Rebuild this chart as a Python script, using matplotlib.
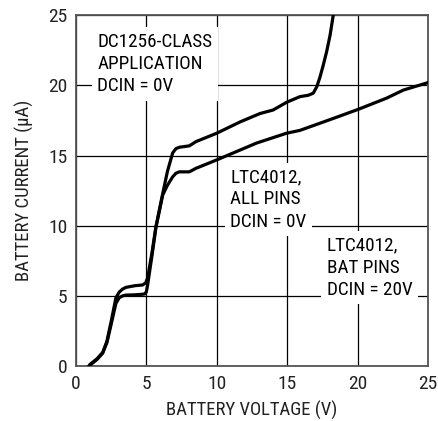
import matplotlib
matplotlib.use("Agg")
import matplotlib.pyplot as plt
from matplotlib import font_manager

# DC1256-class application, DCIN = 0V
dc1256_v = [0.9, 1.0, 1.5, 1.9, 2.2, 2.5, 2.84, 3.08, 3.3, 3.55, 4.2, 4.73, 4.95,
            5.09, 5.4, 5.68, 6.16, 6.5, 6.87, 7.1, 7.34, 8.05, 8.52, 10.0, 11.65,
            13.07, 14.0, 14.96, 15.9, 16.5, 16.85, 17.1, 17.33, 17.55, 17.8, 18.05,
            18.27]
dc1256_i = [0.0, 0.15, 0.55, 1.0, 1.8, 3.2, 4.9, 5.3, 5.5, 5.63, 5.75, 5.8, 5.95,
            6.3, 8.1, 9.95, 12.3, 13.9, 15.2, 15.5, 15.6, 15.7, 16.0, 16.6, 17.4,
            18.0, 18.25, 18.8, 19.2, 19.3, 19.45, 19.9, 20.6, 21.4, 22.4, 23.6,
            25.0]

# LTC4012, all pins, DCIN = 0V
ltc_v = [0.9, 1.0, 1.5, 1.9, 2.2, 2.5, 2.84, 3.08, 3.3, 3.55, 4.2, 4.85, 5.0,
         5.09, 5.4, 5.68, 6.16, 6.5, 6.87, 7.1, 7.34, 8.05, 8.52, 10.0, 12.83,
         14.96, 15.9, 16.6, 18.27, 20.05, 22.07, 23.25, 25.0]
ltc_i = [0.0, 0.1, 0.5, 0.95, 1.7, 3.0, 4.5, 4.9, 5.02, 5.08, 5.1, 5.15, 5.3,
         5.8, 7.9, 9.9, 12.2, 12.9, 13.5, 13.75, 13.85, 13.85, 14.1, 14.7, 15.9,
         16.6, 16.8, 17.05, 17.65, 18.3, 19.1, 19.67, 20.2]

x_ticks = [0, 5, 10, 15, 20, 25]
y_ticks = [0, 5, 10, 15, 20, 25]

names = {f.name for f in font_manager.fontManager.ttflist}
main_font = "DejaVu Sans"
for cand in ["Roboto Condensed", "Liberation Sans Narrow", "Arial Narrow",
             "Liberation Sans", "Roboto"]:
    if cand in names:
        main_font = cand
        break
plt.rcParams["font.family"] = [main_font, "DejaVu Sans"]

fig = plt.figure(figsize=(4.39, 4.21), dpi=100)
ax = fig.add_axes([0.173, 0.1295, 0.802, 0.8345])

ax.plot(dc1256_v, dc1256_i, color="black", lw=2.3, solid_capstyle="round", zorder=4)
ax.plot(ltc_v, ltc_i, color="black", lw=2.3, solid_capstyle="round", zorder=4)

ax.set_xlim(0, 25)
ax.set_ylim(0, 25)
ax.set_xticks(x_ticks)
ax.set_yticks(y_ticks)
ax.tick_params(length=0, labelsize=14, pad=6, colors="#222222")
ax.grid(True, color="black", lw=0.9)
ax.set_axisbelow(True)
for s in ax.spines.values():
    s.set_color("#555555")
    s.set_linewidth(1.3)

ax.set_xlabel("BATTERY VOLTAGE (V)", fontsize=13.5, color="#222222", labelpad=6)
ax.set_ylabel("BATTERY CURRENT (\u03bcA)", fontsize=13.5, color="#222222", labelpad=10)

box = dict(facecolor="white", edgecolor="none", pad=4)
ax.text(1.5, 19.6, "DC1256-CLASS\nAPPLICATION\nDCIN = 0V", fontsize=13.8,
        linespacing=1.3, va="baseline", ha="left", bbox=box, zorder=3)
ax.text(10.95, 9.95, "LTC4012,\nALL PINS\nDCIN = 0V", fontsize=13.8,
        linespacing=1.3, va="baseline", ha="left", bbox=box, zorder=3)
ax.text(17.8, 5.1, "LTC4012,\nBAT PINS\nDCIN = 20V", fontsize=13.8,
        linespacing=1.3, va="baseline", ha="left", bbox=box, zorder=3)

fig.savefig("out.png", dpi=100)
